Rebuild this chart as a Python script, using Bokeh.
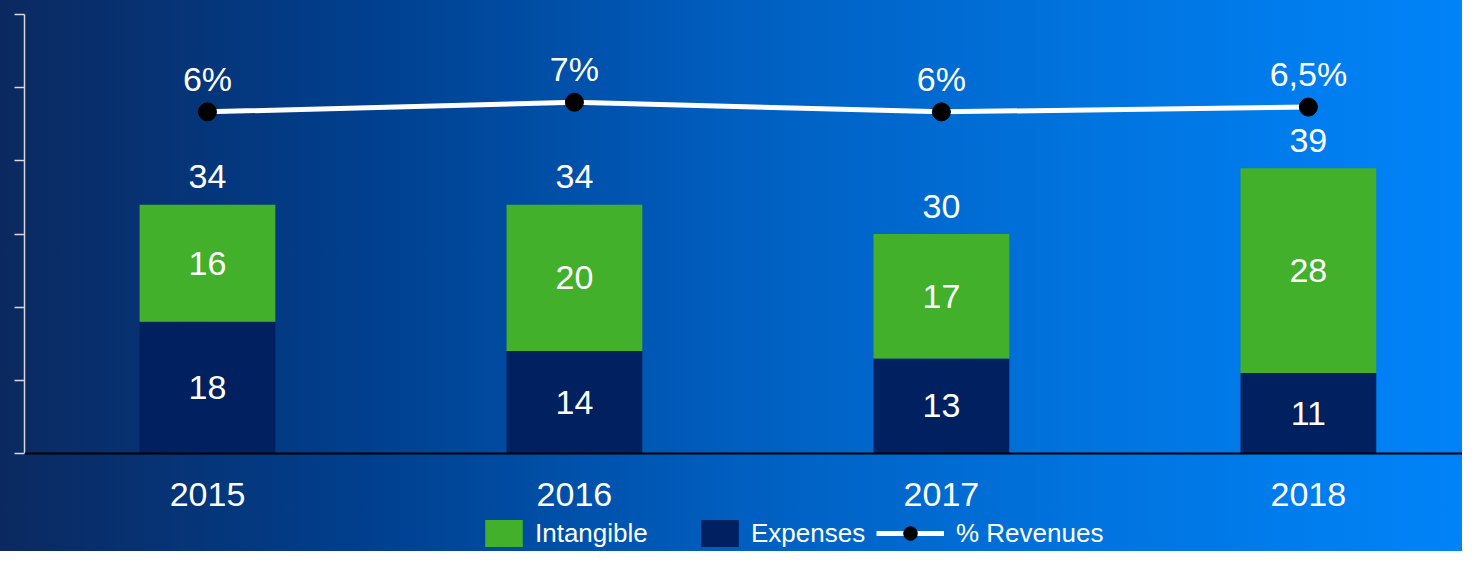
from bokeh.plotting import figure
from bokeh.models import (ColumnDataSource, Range1d, FixedTicker, Legend, LegendItem, Span)
from bokeh.core.properties import value
from bokeh.embed import file_html
from bokeh.resources import INLINE

# ---- data ----
years = ["2015", "2016", "2017", "2018"]
expenses = [18, 14, 13, 11]
intangible = [16, 20, 17, 28]
revenues_pct = [6, 7, 6, 6.5]
pct_labels = ["6%", "7%", "6%", "6,5%"]

GREEN = "#42b02a"
NAVY = "#002060"
FONT = value("Liberation Sans")

xs = list(range(len(years)))
totals = [e + i for e, i in zip(expenses, intangible)]
src = ColumnDataSource(dict(
    x=xs,
    year=years,
    zero=[0] * len(xs),
    exp=expenses,
    intang=intangible,
    exp_mid=[e / 2 for e in expenses],
    int_mid=[e + i / 2 for e, i in zip(expenses, intangible)],
    total=totals,
    exp_lbl=[str(v) for v in expenses],
    int_lbl=[str(v) for v in intangible],
    tot_lbl=[str(v) for v in totals],
    pct=revenues_pct,
    pct_lbl=pct_labels,
))

p = figure(width=1462, height=551, output_backend="svg", toolbar_location=None,
           x_range=Range1d(-0.4986, 3.42), y_range=Range1d(-13.39, 60),
           min_border_left=24, min_border_right=0, min_border_top=14, min_border_bottom=0)
p.styles = {"background": "linear-gradient(to right, #0b2960 0%, #003f8e 25%, #005ebf 50%, #0074df 75%, #0083f8 100%)"}
p.background_fill_color = None
p.border_fill_color = None
p.outline_line_color = None
p.grid.visible = False

p.extra_y_ranges = {"pct": Range1d(-39.6, 16.1)}

# left axis (unlabelled, ticks out)
p.yaxis.bounds = (0, 60)
p.yaxis.ticker = FixedTicker(ticks=[0, 10, 20, 30, 40, 50, 60])
p.yaxis.major_label_text_font_size = "0px"
p.yaxis.major_label_text_alpha = 0
p.yaxis.axis_line_color = "#d8d8d8"
p.yaxis.axis_line_width = 1.5
p.yaxis.major_tick_line_color = "#d8d8d8"
p.yaxis.major_tick_line_width = 1.5
p.yaxis.major_tick_out = 10
p.yaxis.major_tick_in = 0
p.yaxis.minor_tick_line_color = None
p.xaxis.visible = False

# baseline
p.add_layout(Span(location=0, dimension="width", line_color="black", line_width=2))

# bars
bars = p.vbar_stack(["exp", "intang"], x="x", width=0.37, color=[NAVY, GREEN],
                    line_color=None, source=src)

# labels
common = dict(text_color="white", text_font=FONT, text_font_size="34px",
              text_align="center", text_baseline="middle", source=src)
p.text(x="x", y="exp_mid", text="exp_lbl", **common)
p.text(x="x", y="int_mid", text="int_lbl", **common)
p.text(x="x", y="total", text="tot_lbl", y_offset=-28, **common)
p.text(x="x", y="zero", text="year", y_offset=41, **common)

# revenue line
ln = p.line(x="x", y="pct", source=src, y_range_name="pct", line_color="white", line_width=5)
sc = p.scatter(x="x", y="pct", source=src, y_range_name="pct", size=18,
               fill_color="black", line_color="black")
p.text(x="x", y="pct", text="pct_lbl", y_range_name="pct", y_offset=-33, **common)

# legends
def add_legend(label, renderers, loc, gw, gh, standoff):
    lg = Legend(items=[LegendItem(label=label, renderers=renderers)], location=loc,
                orientation="horizontal", glyph_width=gw, glyph_height=gh,
                label_text_color="white", label_text_font="Liberation Sans",
                label_text_font_size="26px", label_standoff=standoff, label_height=27,
                padding=0, margin=0, spacing=0,
                border_line_alpha=0, background_fill_alpha=0)
    p.add_layout(lg, "center")

add_legend("Intangible", [bars[1]], (456, 1), 47, 34, 8)
add_legend("Expenses", [bars[0]], (672, 1), 47, 34, 8)
add_legend("% Revenues", [ln, sc], (852, 1), 68, 34, 12)

open("out.html", "w").write(file_html(p, INLINE))
